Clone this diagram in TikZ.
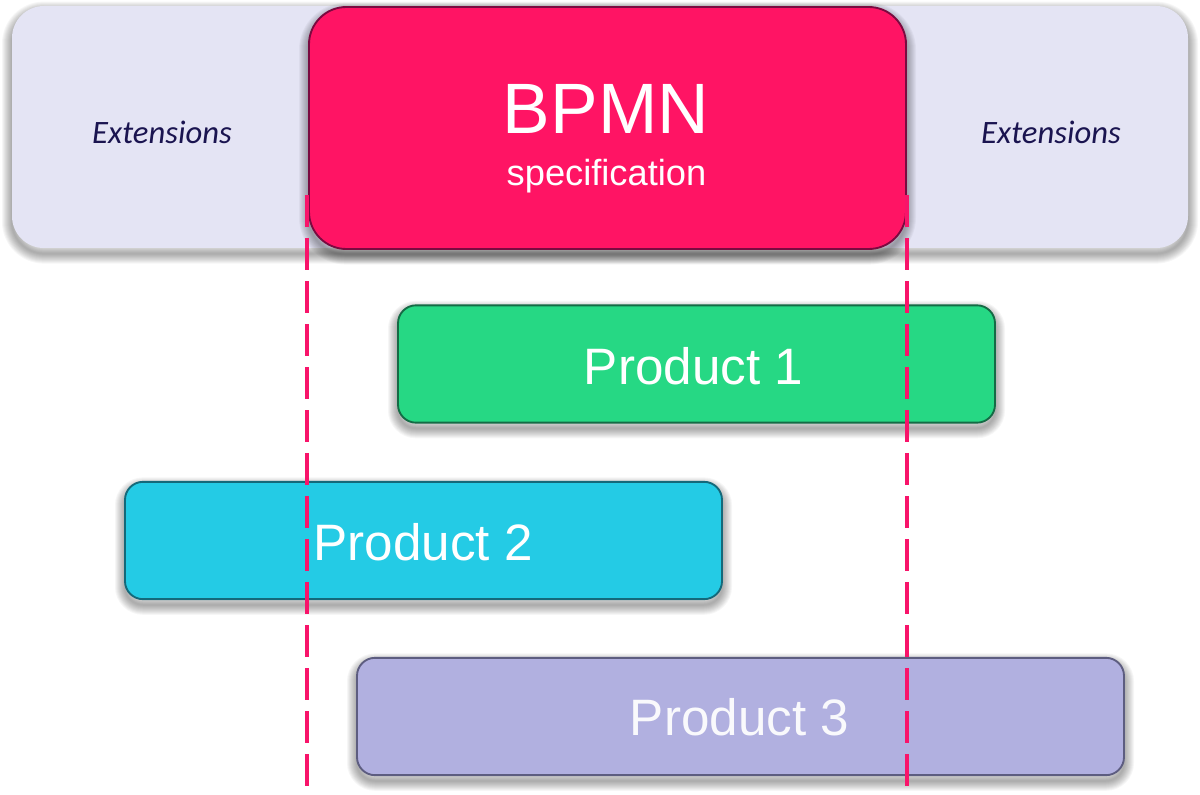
\documentclass[tikz,border=0pt]{standalone}
\usepackage{fontspec}
\setmainfont{Liberation Sans}
\newfontfamily\extfont{Carlito}
\definecolor{barfill}{HTML}{E4E4F4}
\definecolor{specfill}{HTML}{FF1464}
\definecolor{specedge}{HTML}{7A0A40}
\definecolor{greenfill}{HTML}{26D884}
\definecolor{greenedge}{HTML}{146B45}
\definecolor{cyanfill}{HTML}{24CBE5}
\definecolor{cyanedge}{HTML}{14697A}
\definecolor{purplefill}{HTML}{B1B0E0}
\definecolor{purpleedge}{HTML}{5D5D80}
\definecolor{exttext}{HTML}{1A1450}
\definecolor{dashpink}{HTML}{F8146A}
\tikzset{
  px/.style={x=0.75pt,y=-0.75pt},
  shlayer/.style={preaction={draw=black,fill=none,draw opacity=0.035,line width=#1,transform canvas={yshift=-4.2pt}}},
  softshadow/.style={shlayer=15pt,shlayer=13.5pt,shlayer=12pt,shlayer=10.5pt,shlayer=9pt,shlayer=7.5pt,shlayer=6pt,shlayer=4.5pt,shlayer=3pt,shlayer=1.5pt},
  box/.style={rectangle,rounded corners=13.5pt,inner sep=0pt,line width=1.4pt,softshadow,minimum width=447.75pt,minimum height=88pt},
  bartext/.style={font=\extfont\itshape\fontsize{24.5}{28}\selectfont,text=exttext},
  prodtext/.style={font=\fontsize{38.4}{44}\selectfont,text=white},
  limit/.style={draw=dashpink,line width=2.7pt,dash pattern=on 24pt off 8.25pt}
}
\begin{document}
\begin{tikzpicture}[px]
\useasboundingbox (0,0) rectangle (1200,795);
\fill[white] (0,0) rectangle (1200,795);
\node[rectangle,rounded corners=24pt,fill=barfill,inner sep=0pt,softshadow,minimum width=882pt,minimum height=181.5pt] (bar) at (600,127) {};
\node[bartext] (extl) at (162,132) {Extensions};
\node[bartext] (extr) at (1051,132) {Extensions};
\node[rectangle,rounded corners=28pt,fill=specfill,draw=specedge,line width=1.4pt,inner sep=0pt,softshadow,minimum width=447.75pt,minimum height=181.5pt] (spec) at (607.5,128) {};
\node[font=\fontsize{53.5}{60}\selectfont,text=white] (bpmn) at (606,109) {BPMN};
\node[font=\fontsize{27.2}{32}\selectfont,text=white] (spectext) at (606.5,176) {specification};
\node[box,fill=greenfill,draw=greenedge] (p1) at (696.5,364) {};
\node[box,fill=cyanfill,draw=cyanedge] (p2) at (423.5,540.5) {};
\node[box,fill=purplefill,draw=purpleedge,minimum width=575.25pt] (p3) at (740.5,716.5) {};
\node[prodtext] (p1t) at (693.5,366) {Product 1};
\node[prodtext] (p2t) at (423,542) {Product 2};
\node[prodtext,text=white!92!purplefill] (p3t) at (739.5,717) {Product 3};
\coordinate (la) at (307,195);
\coordinate (lb) at (307,786);
\coordinate (ra) at (907,195);
\coordinate (rb) at (907,786);
\draw[limit] (la) -- (lb);
\draw[limit] (ra) -- (rb);
\end{tikzpicture}
\end{document}
